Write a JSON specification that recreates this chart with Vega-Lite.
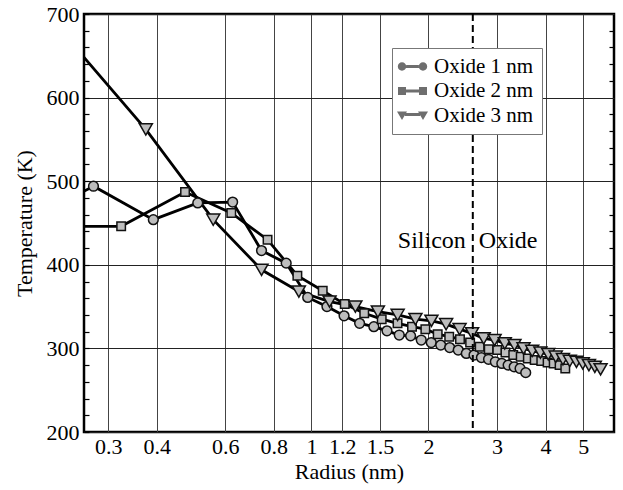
{
  "$schema": "https://vega.github.io/schema/vega-lite/v6.json",
  "width": 530,
  "height": 418,
  "autosize": "none",
  "padding": {"left": 84, "top": 14, "right": 9, "bottom": 58},
  "background": "white",
  "config": {
    "font": "Liberation Serif",
    "view": {"stroke": "black", "strokeWidth": 2.5},
    "axis": {"labelFont": "Liberation Serif", "titleFont": "Liberation Serif", "labelColor": "black", "titleColor": "black", "titleFontWeight": "normal"},
    "legend": {"labelFont": "Liberation Serif", "symbolStrokeColor": "#111", "symbolStrokeWidth": 1.2}
  },
  "datasets": {
    "series": [
      {"series": "Oxide 1 nm", "r": 0.158, "T": 435},
      {"series": "Oxide 1 nm", "r": 0.275, "T": 494},
      {"series": "Oxide 1 nm", "r": 0.392, "T": 454},
      {"series": "Oxide 1 nm", "r": 0.510, "T": 474},
      {"series": "Oxide 1 nm", "r": 0.627, "T": 475},
      {"series": "Oxide 1 nm", "r": 0.744, "T": 417},
      {"series": "Oxide 1 nm", "r": 0.861, "T": 402},
      {"series": "Oxide 1 nm", "r": 0.978, "T": 361},
      {"series": "Oxide 1 nm", "r": 1.096, "T": 350},
      {"series": "Oxide 1 nm", "r": 1.213, "T": 339},
      {"series": "Oxide 1 nm", "r": 1.330, "T": 330},
      {"series": "Oxide 1 nm", "r": 1.447, "T": 326},
      {"series": "Oxide 1 nm", "r": 1.564, "T": 321},
      {"series": "Oxide 1 nm", "r": 1.682, "T": 316},
      {"series": "Oxide 1 nm", "r": 1.799, "T": 315},
      {"series": "Oxide 1 nm", "r": 1.916, "T": 310},
      {"series": "Oxide 1 nm", "r": 2.033, "T": 307},
      {"series": "Oxide 1 nm", "r": 2.150, "T": 304},
      {"series": "Oxide 1 nm", "r": 2.268, "T": 301},
      {"series": "Oxide 1 nm", "r": 2.385, "T": 298},
      {"series": "Oxide 1 nm", "r": 2.502, "T": 294},
      {"series": "Oxide 1 nm", "r": 2.619, "T": 292},
      {"series": "Oxide 1 nm", "r": 2.736, "T": 289},
      {"series": "Oxide 1 nm", "r": 2.854, "T": 287},
      {"series": "Oxide 1 nm", "r": 2.971, "T": 284},
      {"series": "Oxide 1 nm", "r": 3.088, "T": 282},
      {"series": "Oxide 1 nm", "r": 3.205, "T": 280},
      {"series": "Oxide 1 nm", "r": 3.322, "T": 278},
      {"series": "Oxide 1 nm", "r": 3.440, "T": 276},
      {"series": "Oxide 1 nm", "r": 3.557, "T": 271},
      {"series": "Oxide 2 nm", "r": 0.175, "T": 446},
      {"series": "Oxide 2 nm", "r": 0.324, "T": 446},
      {"series": "Oxide 2 nm", "r": 0.473, "T": 487},
      {"series": "Oxide 2 nm", "r": 0.622, "T": 462},
      {"series": "Oxide 2 nm", "r": 0.771, "T": 430},
      {"series": "Oxide 2 nm", "r": 0.920, "T": 387},
      {"series": "Oxide 2 nm", "r": 1.069, "T": 369},
      {"series": "Oxide 2 nm", "r": 1.218, "T": 353},
      {"series": "Oxide 2 nm", "r": 1.367, "T": 342},
      {"series": "Oxide 2 nm", "r": 1.516, "T": 335},
      {"series": "Oxide 2 nm", "r": 1.665, "T": 330},
      {"series": "Oxide 2 nm", "r": 1.814, "T": 326},
      {"series": "Oxide 2 nm", "r": 1.963, "T": 323},
      {"series": "Oxide 2 nm", "r": 2.112, "T": 317},
      {"series": "Oxide 2 nm", "r": 2.261, "T": 314},
      {"series": "Oxide 2 nm", "r": 2.410, "T": 311},
      {"series": "Oxide 2 nm", "r": 2.559, "T": 307},
      {"series": "Oxide 2 nm", "r": 2.708, "T": 302},
      {"series": "Oxide 2 nm", "r": 2.857, "T": 299},
      {"series": "Oxide 2 nm", "r": 3.006, "T": 298},
      {"series": "Oxide 2 nm", "r": 3.155, "T": 295},
      {"series": "Oxide 2 nm", "r": 3.304, "T": 292},
      {"series": "Oxide 2 nm", "r": 3.453, "T": 290},
      {"series": "Oxide 2 nm", "r": 3.602, "T": 288},
      {"series": "Oxide 2 nm", "r": 3.751, "T": 286},
      {"series": "Oxide 2 nm", "r": 3.900, "T": 285},
      {"series": "Oxide 2 nm", "r": 4.049, "T": 283},
      {"series": "Oxide 2 nm", "r": 4.198, "T": 282},
      {"series": "Oxide 2 nm", "r": 4.347, "T": 280},
      {"series": "Oxide 2 nm", "r": 4.496, "T": 276},
      {"series": "Oxide 3 nm", "r": 0.190, "T": 722},
      {"series": "Oxide 3 nm", "r": 0.375, "T": 562},
      {"series": "Oxide 3 nm", "r": 0.559, "T": 454},
      {"series": "Oxide 3 nm", "r": 0.744, "T": 394},
      {"series": "Oxide 3 nm", "r": 0.928, "T": 368},
      {"series": "Oxide 3 nm", "r": 1.113, "T": 356},
      {"series": "Oxide 3 nm", "r": 1.297, "T": 350},
      {"series": "Oxide 3 nm", "r": 1.482, "T": 344},
      {"series": "Oxide 3 nm", "r": 1.666, "T": 340},
      {"series": "Oxide 3 nm", "r": 1.851, "T": 335},
      {"series": "Oxide 3 nm", "r": 2.035, "T": 333},
      {"series": "Oxide 3 nm", "r": 2.220, "T": 329},
      {"series": "Oxide 3 nm", "r": 2.404, "T": 323},
      {"series": "Oxide 3 nm", "r": 2.589, "T": 318},
      {"series": "Oxide 3 nm", "r": 2.773, "T": 312},
      {"series": "Oxide 3 nm", "r": 2.958, "T": 310},
      {"series": "Oxide 3 nm", "r": 3.142, "T": 306},
      {"series": "Oxide 3 nm", "r": 3.327, "T": 304},
      {"series": "Oxide 3 nm", "r": 3.511, "T": 300},
      {"series": "Oxide 3 nm", "r": 3.696, "T": 297},
      {"series": "Oxide 3 nm", "r": 3.880, "T": 295},
      {"series": "Oxide 3 nm", "r": 4.065, "T": 293},
      {"series": "Oxide 3 nm", "r": 4.249, "T": 290},
      {"series": "Oxide 3 nm", "r": 4.434, "T": 287},
      {"series": "Oxide 3 nm", "r": 4.618, "T": 285},
      {"series": "Oxide 3 nm", "r": 4.803, "T": 284},
      {"series": "Oxide 3 nm", "r": 4.987, "T": 282},
      {"series": "Oxide 3 nm", "r": 5.172, "T": 280},
      {"series": "Oxide 3 nm", "r": 5.356, "T": 278},
      {"series": "Oxide 3 nm", "r": 5.541, "T": 275}
    ],
    "boundary": [{"r": 2.6}],
    "notes": [
      {"r": 2.6, "T": 420, "label": "Silicon"},
      {"r": 2.6, "T": 420, "label": "Oxide"}
    ]
  },
  "layer": [
    {
      "data": {"name": "series"},
      "mark": {"type": "line", "color": "black", "strokeWidth": 2.8, "clip": true},
      "encoding": {
        "x": {
          "field": "r", "type": "quantitative",
          "scale": {"type": "log", "domain": [0.26, 6], "nice": false},
          "axis": {
            "values": [0.3, 0.4, 0.6, 0.8, 1, 1.2, 1.5, 2, 3, 4, 5],
            "format": "~g", "ticks": false, "domain": false,
            "grid": true, "gridColor": "#444", "gridWidth": 1,
            "labelFont": "Liberation Serif", "titleFont": "Liberation Serif",
            "labelFontSize": 22, "labelPadding": 4, "labelOverlap": false, "labelFlush": false,
            "title": "Radius (nm)", "titleFontSize": 22, "titlePadding": 4
          }
        },
        "y": {
          "field": "T", "type": "quantitative",
          "scale": {"domain": [200, 700], "nice": false},
          "axis": {
            "orient": "left",
            "values": [200, 220, 240, 260, 280, 300, 320, 340, 360, 380, 400, 420, 440, 460, 480, 500, 520, 540, 560, 580, 600, 620, 640, 660, 680, 700],
            "labelExpr": "datum.value % 100 === 0 ? datum.label : ''",
            "labelFont": "Liberation Serif", "titleFont": "Liberation Serif",
            "labelFontSize": 22, "labelPadding": 10, "labelOverlap": false, "labelFlush": false,
            "tickSize": -5, "tickColor": "black", "tickWidth": 1.2,
            "domain": false, "grid": true,
            "gridColor": {"condition": {"test": "datum.value % 100 === 0", "value": "#222"}, "value": "rgba(0,0,0,0)"},
            "gridWidth": 1.2,
            "title": "Temperature (K)", "titleFontSize": 22, "titlePadding": 10
          }
        },
        "detail": {"field": "series"}
      }
    },
    {
      "data": {"name": "series"},
      "transform": [{"filter": "datum.series === 'Oxide 1 nm'"}],
      "mark": {"type": "point", "shape": "circle", "filled": true, "fill": "#bdbdbd", "stroke": "#111", "strokeWidth": 1.5, "opacity": 1, "size": 95, "clip": true},
      "encoding": {
        "x": {"field": "r", "type": "quantitative"},
        "y": {
          "field": "T", "type": "quantitative",
          "axis": {
            "orient": "right",
            "values": [220, 240, 260, 280, 320, 340, 360, 380, 420, 440, 460, 480, 520, 540, 560, 580, 620, 640, 660, 680],
            "labels": false, "tickSize": -5, "tickColor": "black", "tickWidth": 1.2,
            "domain": false, "grid": false, "title": null
          }
        }
      }
    },
    {
      "data": {"name": "series"},
      "transform": [{"filter": "datum.series === 'Oxide 2 nm'"}],
      "mark": {"type": "point", "shape": "square", "filled": true, "fill": "#bdbdbd", "stroke": "#111", "strokeWidth": 1.5, "opacity": 1, "size": 72, "clip": true},
      "encoding": {
        "x": {"field": "r", "type": "quantitative"},
        "y": {"field": "T", "type": "quantitative", "axis": null}
      }
    },
    {
      "data": {"name": "series"},
      "transform": [{"filter": "datum.series === 'Oxide 3 nm'"}],
      "mark": {"type": "point", "shape": "triangle-down", "filled": true, "fill": "#bdbdbd", "stroke": "#111", "strokeWidth": 1.5, "opacity": 1, "size": 170, "clip": true},
      "encoding": {
        "x": {"field": "r", "type": "quantitative"},
        "y": {"field": "T", "type": "quantitative", "axis": null}
      }
    },
    {
      "data": {"name": "series"},
      "transform": [{"filter": "false"}],
      "mark": {"type": "point", "filled": true, "color": "#6e6e6e", "fill": "#6e6e6e", "stroke": "#111", "strokeWidth": 1.2, "opacity": 1},
      "encoding": {
        "x": {"field": "r", "type": "quantitative"},
        "y": {"field": "T", "type": "quantitative", "axis": null},
        "shape": {
          "field": "series", "type": "nominal",
          "scale": {
            "domain": ["Oxide 1 nm", "Oxide 2 nm", "Oxide 3 nm"],
            "range": [
              "M-1.575,0A1.05,1.05,0,1,0,-3.675,0A1.05,1.05,0,1,0,-1.575,0ZM3.675,0A1.05,1.05,0,1,0,1.575,0A1.05,1.05,0,1,0,3.675,0ZM-1.6,-0.35H1.6V0.35H-1.6Z",
              "M-3.625,-1H-1.625V1H-3.625ZM1.625,-1H3.625V1H1.625ZM-1.65,-0.35H1.65V0.35H-1.65Z",
              "M-3.875,-1H-1.375L-2.625,1.1ZM1.375,-1H3.875L2.625,1.1ZM-1.9,-0.6H1.9V0.1H-1.9Z"
            ]
          },
          "legend": {
            "orient": "none", "legendX": 308, "legendY": 34, "title": null,
            "padding": 8, "strokeColor": "#777", "fillColor": "white",
            "labelFont": "Liberation Serif", "labelFontSize": 21, "labelColor": "black",
            "symbolSize": 64, "symbolOffset": 2, "labelOffset": 11, "rowPadding": 2.5,
            "symbolFillColor": "#6e6e6e", "symbolStrokeColor": "#111", "symbolStrokeWidth": 1.2, "symbolOpacity": 1
          }
        }
      }
    },
    {
      "data": {"name": "boundary"},
      "mark": {"type": "rule", "color": "black", "strokeWidth": 2, "strokeDash": [7, 4]},
      "encoding": {
        "x": {"field": "r", "type": "quantitative"}
      }
    },
    {
      "data": {"name": "notes"},
      "transform": [{"filter": "datum.label === 'Silicon'"}],
      "mark": {"type": "text", "align": "right", "baseline": "alphabetic", "dx": -7, "fontSize": 24, "font": "Liberation Serif", "color": "black"},
      "encoding": {
        "x": {"field": "r", "type": "quantitative"},
        "y": {"field": "T", "type": "quantitative", "axis": null},
        "text": {"field": "label"}
      }
    },
    {
      "data": {"name": "notes"},
      "transform": [{"filter": "datum.label === 'Oxide'"}],
      "mark": {"type": "text", "align": "left", "baseline": "alphabetic", "dx": 6, "fontSize": 24, "font": "Liberation Serif", "color": "black"},
      "encoding": {
        "x": {"field": "r", "type": "quantitative"},
        "y": {"field": "T", "type": "quantitative", "axis": null},
        "text": {"field": "label"}
      }
    }
  ],
  "resolve": {"axis": {"y": "independent"}}
}
